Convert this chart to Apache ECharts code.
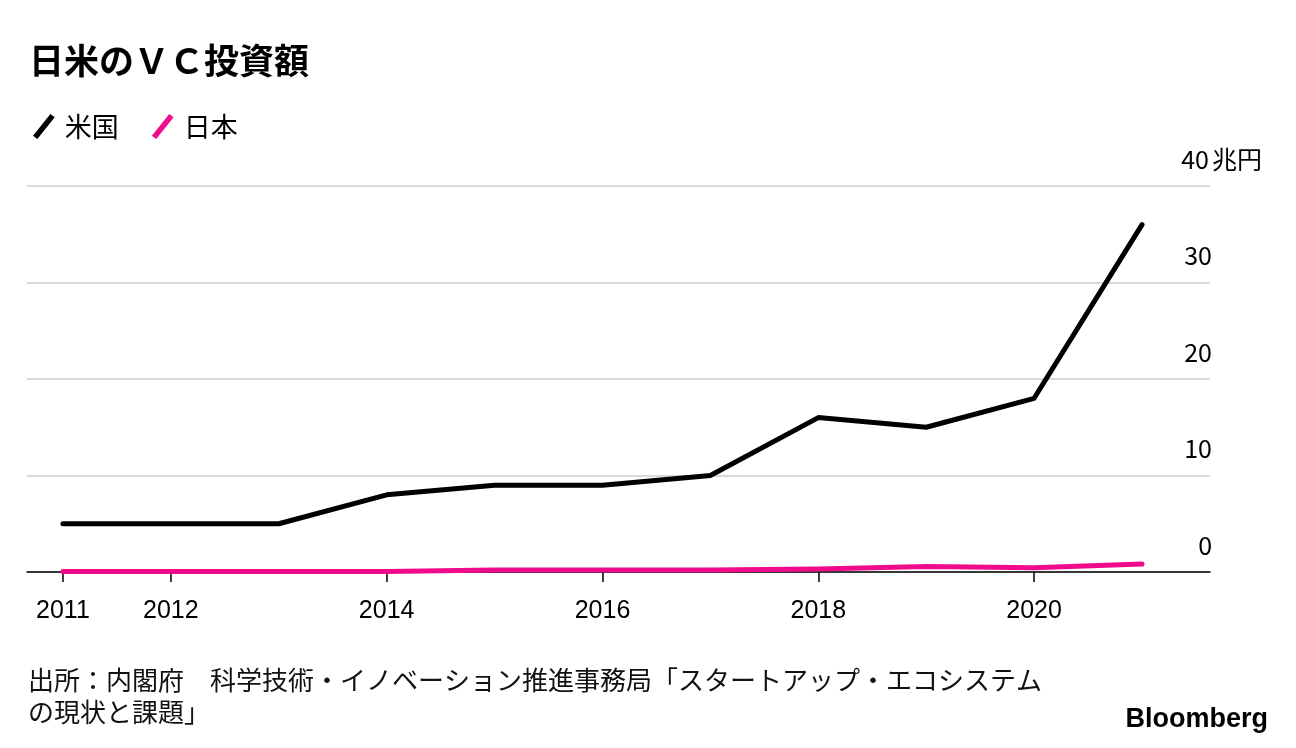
<!DOCTYPE html>
<html><head><meta charset="utf-8">
<script src="https://cdn.jsdelivr.net/npm/echarts@6/dist/echarts.min.js"></script>
<style>html,body{margin:0;padding:0;background:#fff}#c{width:1296px;height:748px}</style>
</head><body><div id="c"></div>
<script>
const years = [2011,2012,2013,2014,2015,2016,2017,2018,2019,2020,2021];
const usValues = [5,5,5,8,9,9,10,16,15,18,36];
const jpValues = [0.05,0.05,0.05,0.05,0.2,0.2,0.2,0.32,0.58,0.45,0.83];
const xTickLabels = [2011,2012,2014,2016,2018,2020];
const yTicks = [0,10,20,30,40];
const seriesNames = ['米国','日本'];
const title = '日米のＶＣ投資額';
const sourceText = '出所：内閣府　科学技術・イノベーション推進事務局「スタートアップ・エコシステム\nの現状と課題」';

const JP = '"Noto Sans CJK JP", "Noto Sans", sans-serif';
const NUM = '"Liberation Sans", Arial, sans-serif';
const chart = echarts.init(document.getElementById('c'));
const legendIcon = 'path://M0,20 L16,0 L20,3 L4,23 Z';
chart.setOption({
  animation:false,
  backgroundColor:'#fff',
  title:{text:title,left:24,top:38,textStyle:{fontFamily:JP,fontSize:35,fontWeight:'bold',color:'#000'}},
  legend:{left:28,top:108,itemWidth:22,itemHeight:25,itemGap:33,
    textStyle:{fontFamily:JP,fontSize:27,color:'#000',padding:[0,0,0,5]},
    data:[{name:seriesNames[0],icon:legendIcon},{name:seriesNames[1],icon:legendIcon}]},
  grid:{left:27,right:86,top:186,bottom:176,containLabel:false},
  xAxis:{type:'value',min:2010.667,max:2021.63,
    axisLine:{show:true,lineStyle:{color:'#000',width:1.5}},
    axisTick:{show:true,length:10,customValues:xTickLabels,lineStyle:{color:'#000',width:1.5}},
    axisLabel:{customValues:xTickLabels,margin:27,fontFamily:NUM,fontSize:25,color:'#000',formatter:v=>String(v)},
    splitLine:{show:false}},
  yAxis:{type:'value',position:'right',min:0,max:40,interval:10,
    axisLine:{show:false},axisTick:{show:false},
    splitLine:{show:true,lineStyle:{color:'#d9d9d9',width:2}},
    axisLabel:{inside:false,margin:-32,align:'left',verticalAlign:'bottom',padding:[0,0,14,0],
      formatter:v=> v===40 ? '{n|'+v+'}{u|兆円}' : '{n|'+v+'}',
      rich:{n:{fontFamily:JP,fontSize:25,color:'#000',width:34,align:'right'},
            u:{fontFamily:JP,fontSize:25,color:'#000'}}}},
  series:[
    {name:seriesNames[0],type:'line',symbol:'none',data:years.map((y,i)=>[y,usValues[i]]),
      lineStyle:{color:'#000',width:5,cap:'round',join:'round'},itemStyle:{color:'#000'}},
    {name:seriesNames[1],type:'line',symbol:'none',data:years.map((y,i)=>[y,jpValues[i]]),
      lineStyle:{color:'#f00a8c',width:5,cap:'round',join:'round'},itemStyle:{color:'#f00a8c'}}
  ],
  graphic:[
    {type:'text',left:28,top:664,style:{text:sourceText,fontFamily:JP,fontSize:26,lineHeight:32,fill:'#111'}},
    {type:'text',right:28,top:706,style:{text:'Bloomberg',fontFamily:NUM,fontSize:27,fontWeight:'bold',fill:'#000'}}
  ]
});
</script></body></html>
